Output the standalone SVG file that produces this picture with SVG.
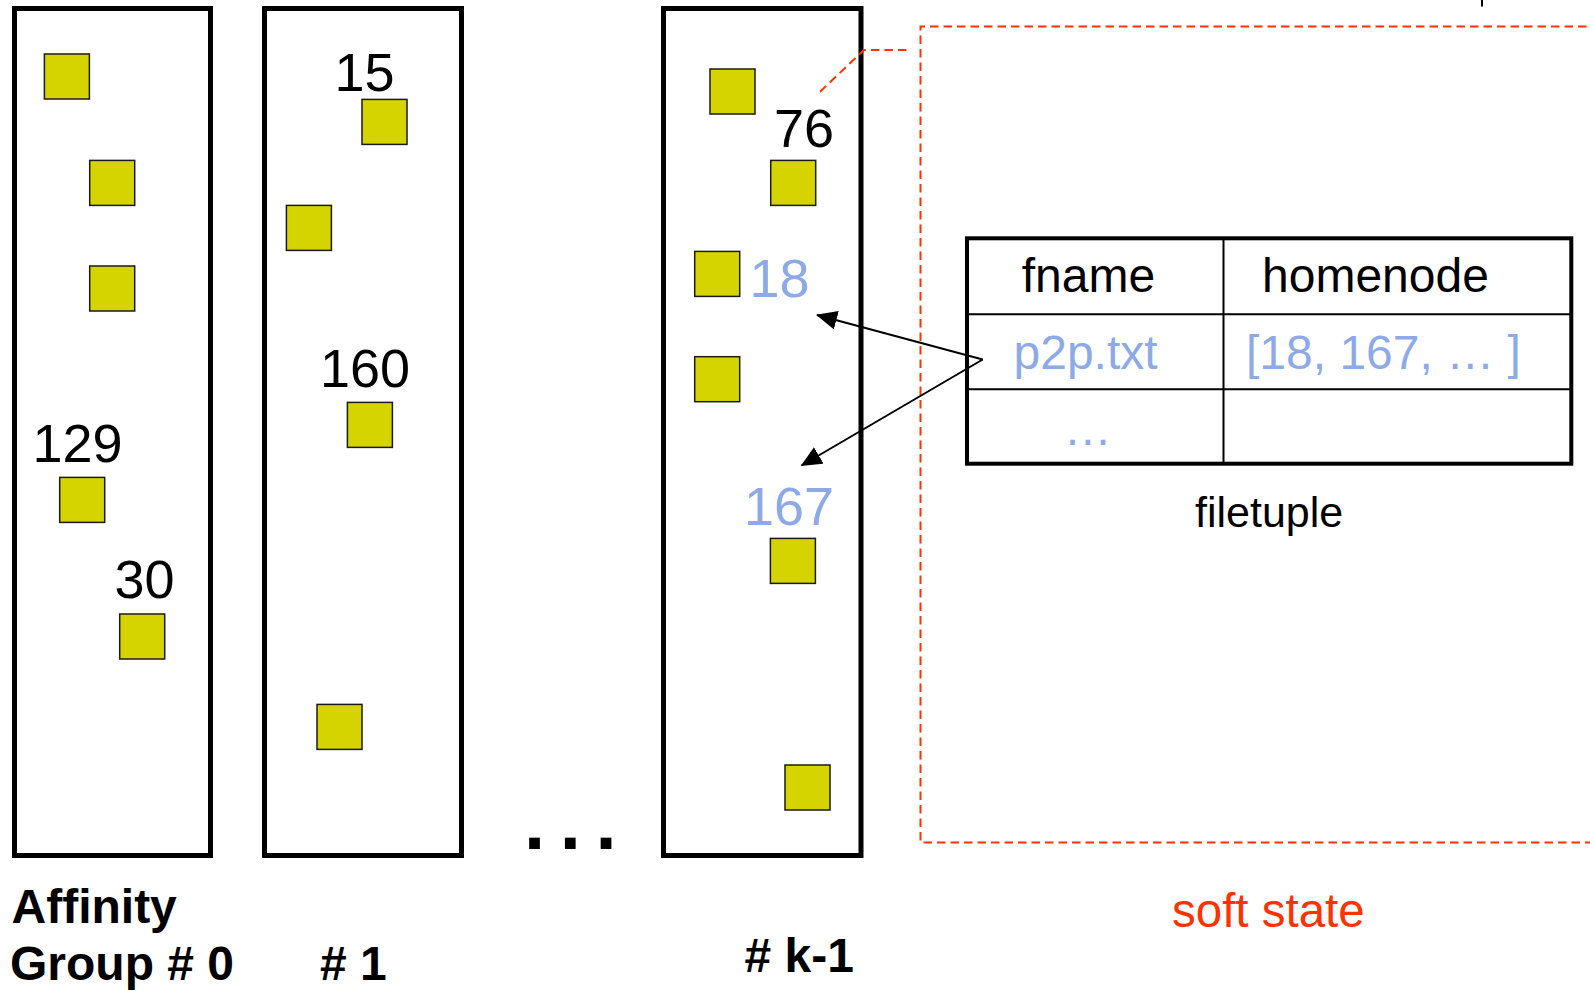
<svg xmlns="http://www.w3.org/2000/svg" width="1590" height="991" viewBox="0 0 1590 991">
<style>
  .grp{fill:#fff;stroke:#000;stroke-width:5}
  .sq{fill:#D6D400;stroke:#1a1a1a;stroke-width:1.5}
  .t{font-family:"Liberation Sans",Arial,sans-serif;fill:#000}
  .num{font-size:54px}
  .blue{fill:#8EAAE6}
  .bold{font-weight:bold;font-size:48px}
  .red{fill:none;stroke:#FF3300;stroke-width:2;stroke-dasharray:8.5 5}
  .tbl{fill:none;stroke:#000}
  .arrow{fill:none;stroke:#000;stroke-width:2;marker-end:url(#ah)}
</style>
<defs>
  <marker id="ah" viewBox="0 0 21 19" refX="20" refY="9.5" markerWidth="21" markerHeight="19" markerUnits="userSpaceOnUse" orient="auto">
    <path d="M0,0 L21,9.5 L0,19 z" fill="#000"/>
  </marker>
</defs>
<rect width="1590" height="991" fill="#fff"/>

<line x1="1482" y1="0" x2="1482" y2="6.5" stroke="#000" stroke-width="2"/>

<g id="group0">
  <rect class="grp" x="14.5" y="8.5" width="196" height="847"/>
  <rect class="sq" x="44.4" y="54" width="45" height="45"/>
  <rect class="sq" x="89.7" y="160.4" width="45" height="45"/>
  <rect class="sq" x="89.7" y="266" width="45" height="45"/>
  <text class="t num" x="32.5" y="461.7">129</text>
  <rect class="sq" x="59.7" y="477.4" width="45" height="45"/>
  <text class="t num" x="114.5" y="597.5">30</text>
  <rect class="sq" x="119.7" y="614" width="45" height="45"/>
  <text class="t bold" x="11.5" y="922.7">Affinity</text>
  <text class="t bold" x="10" y="980">Group # 0</text>
</g>

<g id="group1">
  <rect class="grp" x="264.5" y="8.5" width="197" height="847"/>
  <text class="t num" x="334.5" y="90.7">15</text>
  <rect class="sq" x="362" y="99.4" width="45" height="45"/>
  <rect class="sq" x="286.4" y="205.4" width="45" height="45"/>
  <text class="t num" x="320" y="386.7">160</text>
  <rect class="sq" x="347.4" y="402.4" width="45" height="45"/>
  <rect class="sq" x="317" y="704.4" width="45" height="45"/>
  <text class="t bold" x="320" y="980"># 1</text>
</g>

<g id="ellipsis">
  <text class="t" x="524" y="849" font-size="76" font-weight="bold" letter-spacing="14.6">...</text>
</g>

<g id="groupk1">
  <rect class="grp" x="663.5" y="8.5" width="197.5" height="847"/>
  <rect class="sq" x="710" y="69" width="45" height="45"/>
  <text class="t num" x="774" y="146.7">76</text>
  <rect class="sq" x="770.7" y="160.4" width="45" height="45"/>
  <rect class="sq" x="694.7" y="251.4" width="45" height="45"/>
  <text class="t num blue" x="749.5" y="296.5">18</text>
  <rect class="sq" x="694.7" y="356.7" width="45" height="45"/>
  <text class="t num blue" x="744" y="524.5">167</text>
  <rect class="sq" x="770.4" y="538.4" width="45" height="45"/>
  <rect class="sq" x="785" y="765" width="45" height="45"/>
  <text class="t bold" x="744.5" y="972"># k-1</text>
</g>

<g id="soft-state">
  <path class="red" d="M1600,26.5 H920.5 V842.5 H1600"/>
  <path class="red" d="M820,91.7 L864,50 H906.5"/>
  <text class="t" x="1172" y="926.7" font-size="47.5" style="fill:#FF3300">soft state</text>
</g>

<g id="filetuple">
  <rect class="tbl" x="967" y="238.3" width="604.3" height="225.4" stroke-width="4"/>
  <line class="tbl" x1="1223.5" y1="238.3" x2="1223.5" y2="463.7" stroke-width="2"/>
  <line class="tbl" x1="967" y1="314.3" x2="1571.3" y2="314.3" stroke-width="2"/>
  <line class="tbl" x1="967" y1="389.3" x2="1571.3" y2="389.3" stroke-width="2"/>
  <text class="t" x="1021.7" y="292.3" font-size="48">fname</text>
  <text class="t" x="1262" y="292.3" font-size="48">homenode</text>
  <text class="t blue" x="1013.5" y="369" font-size="48">p2p.txt</text>
  <text class="t blue" x="1246" y="369" font-size="48">[18, 167, … ]</text>
  <text class="t blue" x="1063.8" y="445" font-size="48">…</text>
  <text class="t" x="1195" y="526.7" font-size="43">filetuple</text>
</g>

<g id="connectors">
  <line class="arrow" x1="982.7" y1="359.5" x2="817" y2="315"/>
  <line class="arrow" x1="982.7" y1="359.5" x2="801.5" y2="465.5"/>
</g>
</svg>
